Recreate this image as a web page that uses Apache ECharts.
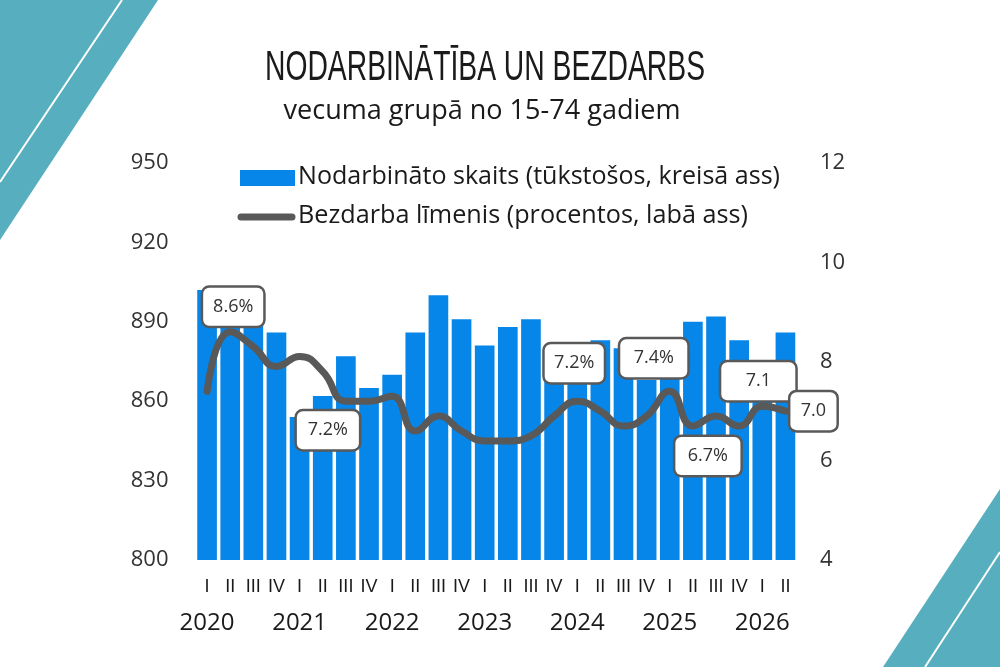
<!DOCTYPE html>
<html>
<head>
<meta charset="utf-8">
<title>Nodarbinātība un bezdarbs</title>
<script src="https://cdn.jsdelivr.net/npm/echarts@6/dist/echarts.min.js"></script>
<style>
  html, body { margin: 0; padding: 0; background: #fff; }
  #chart { width: 1000px; height: 667px; }
</style>
</head>
<body>
<div id="chart"></div>
<script>
// kategorijas (ceturkšņi)
const categories = [
  '2020 I', '2020 II', '2020 III', '2020 IV',
  '2021 I', '2021 II', '2021 III', '2021 IV',
  '2022 I', '2022 II', '2022 III', '2022 IV',
  '2023 I', '2023 II', '2023 III', '2023 IV',
  '2024 I', '2024 II', '2024 III', '2024 IV',
  '2025 I', '2025 II', '2025 III', '2025 IV',
  '2026 I', '2026 II'
];

// nodarbināto skaits, tūkst.
const employed = [
  902, 896, 893, 886,
  854, 862, 877, 865,
  870, 886, 900, 891,
  881, 888, 891, 875,
  873, 883, 880, 868,
  871, 890, 892, 883,
  868, 886
];

// bezdarba līmenis, %
const unemployment = [
  7.4, 8.6, 8.3, 7.9,
  8.1, 7.8, 7.2, 7.2,
  7.3, 6.6, 6.9, 6.6,
  6.4, 6.4, 6.5, 6.9,
  7.2, 7.0, 6.7, 6.9,
  7.4, 6.7, 6.9, 6.7,
  7.1, 7.0
];

// iezīmētās vērtības (indekss -> teksts)
const callouts = { 1: '8.6%', 6: '7.2%', 16: '7.2%', 20: '7.4%', 21: '6.7%', 24: '7.1', 25: '7.0' };

const leftTicks = [800, 950, 30];
const rightTicks = [4, 12, 2];

const seriesNames = ['Nodarbināto skaits (tūkstošos, kreisā ass)', 'Bezdarba līmenis (procentos, labā ass)'];

const BLUE = '#0686e8';
const GREY = '#595959';
const TEAL = '#56aebe';

// izvietojums iezīmēm
const calloutLayout = {
  1: { offset: [3, -25], w: 60 },
  6: { offset: [-18, 29], w: 62 },
  16: { offset: [-3, -38], w: 59 },
  20: { offset: [-16, -33], w: 67 },
  21: { offset: [15, 30], w: 65 },
  24: { offset: [-4, -25], w: 74 },
  25: { offset: [28, 0], w: 46 }
};

function fitScale(text, font, width) {
  const ctx = document.createElement('canvas').getContext('2d');
  ctx.font = font;
  return width / ctx.measureText(text).width;
}

function scaledText(text, font, x, y, width, align) {
  return {
    type: 'text',
    x: x, y: y,
    scaleX: fitScale(text, font, width),
    z: 10,
    style: { text: text, font: font, fill: '#1a1a1a', textAlign: align || 'left', textVerticalAlign: 'middle' }
  };
}

const lineData = unemployment.map((v, i) => {
  if (!(i in callouts)) return v;
  const l = calloutLayout[i];
  return {
    value: v,
    label: {
      show: true,
      position: 'inside',
      offset: l.offset,
      formatter: callouts[i],
      width: l.w,
      height: 38,
      align: 'center',
      verticalAlign: 'middle',
      fontFamily: 'Open Sans',
      fontSize: 18,
      color: '#333',
      backgroundColor: '#fff',
      borderColor: GREY,
      borderWidth: 2.5,
      borderRadius: 6
    }
  };
});

const chart = echarts.init(document.getElementById('chart'));

const titleFont = '42px "Liberation Sans"';
const subFont = '28px "Open Sans"';
const legFont = '25px "Open Sans"';

chart.setOption({
  backgroundColor: '#fff',
  animation: false,
  grid: { left: 195.5, right: 203, top: 163, bottom: 107 },
  graphic: [
    // dekoratīvie stūri
    { type: 'polygon', shape: { points: [[0, 0], [158, 0], [0, 240]] }, style: { fill: TEAL }, z: 0 },
    { type: 'line', shape: { x1: 122, y1: 0, x2: 0, y2: 182 }, style: { stroke: '#fff', lineWidth: 2 }, z: 1 },
    { type: 'polygon', shape: { points: [[1000, 489], [1000, 667], [883, 667]] }, style: { fill: TEAL }, z: 0 },
    { type: 'line', shape: { x1: 1000, y1: 552, x2: 925, y2: 667 }, style: { stroke: '#fff', lineWidth: 2 }, z: 1 },
    scaledText('NODARBINĀTĪBA UN BEZDARBS', titleFont, 485, 68, 440, 'center'),
    scaledText('vecuma grupā no 15-74 gadiem', subFont, 482, 111, 397, 'center'),
    // leģenda
    { type: 'rect', shape: { x: 240, y: 170, width: 55, height: 16 }, style: { fill: BLUE }, z: 10 },
    { type: 'line', shape: { x1: 241, y1: 217, x2: 292, y2: 217 }, style: { stroke: GREY, lineWidth: 7, lineCap: 'round' }, z: 10 },
    scaledText(seriesNames[0], legFont, 298, 177, 482),
    scaledText(seriesNames[1], legFont, 298, 216, 450)
  ],
  xAxis: {
    type: 'category',
    data: categories,
    axisLine: { show: false },
    axisTick: { show: false },
    axisLabel: {
      interval: 0,
      margin: 15,
      color: '#1a1a1a',
      formatter: (val, idx) => {
        const [year, q] = val.split(' ');
        return q === 'I' ? '{q|' + q + '}\n{y|' + year + '}' : '{q|' + q + '}';
      },
      rich: {
        q: { fontFamily: 'Liberation Sans', fontSize: 18, lineHeight: 24, color: '#1a1a1a' },
        y: { fontFamily: 'Open Sans', fontSize: 24, lineHeight: 48, color: '#1a1a1a' }
      }
    }
  },
  yAxis: [
    {
      type: 'value',
      min: leftTicks[0], max: leftTicks[1], interval: leftTicks[2],
      axisLine: { show: false }, axisTick: { show: false }, splitLine: { show: false },
      axisLabel: { margin: 27, fontFamily: 'Open Sans', fontSize: 22, color: '#333' }
    },
    {
      type: 'value',
      min: rightTicks[0], max: rightTicks[1], interval: rightTicks[2],
      axisLine: { show: false }, axisTick: { show: false }, splitLine: { show: false },
      axisLabel: { margin: 23, fontFamily: 'Open Sans', fontSize: 22, color: '#333' }
    }
  ],
  series: [
    {
      name: seriesNames[0],
      type: 'bar',
      yAxisIndex: 0,
      data: employed,
      barCategoryGap: '15%',
      itemStyle: { color: BLUE },
      z: 2
    },
    {
      name: seriesNames[1],
      type: 'line',
      yAxisIndex: 1,
      data: lineData,
      smooth: 0.5,
      symbol: 'circle',
      symbolSize: 0.1,
      showAllSymbol: true,
      lineStyle: { color: GREY, width: 7, cap: 'round' },
      itemStyle: { color: GREY },
      z: 3
    }
  ]
});
</script>
</body>
</html>
